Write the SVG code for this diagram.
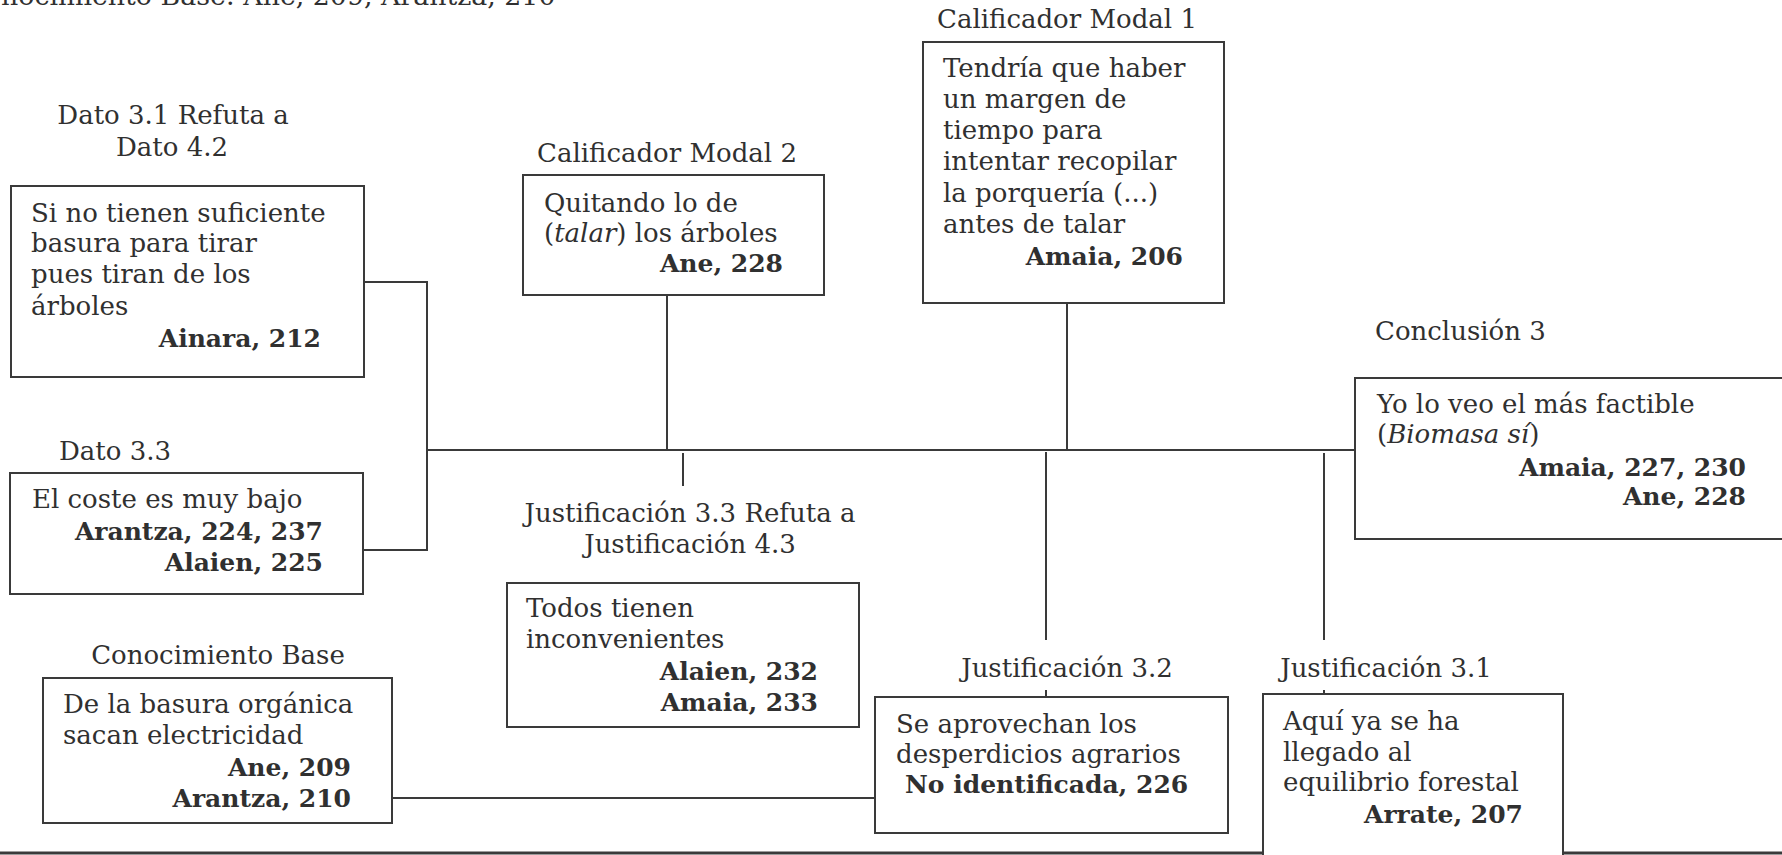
<svg xmlns="http://www.w3.org/2000/svg" width="1782" height="855" viewBox="0 0 1782 855">
  <style>
    text { font-family: "DejaVu Serif", "Liberation Serif", serif; font-size: 26px; fill: #303030; }
    .b { font-weight: bold; font-size: 25px; text-anchor: end; }
    .bl { font-weight: bold; font-size: 25px; }
    .top { font-size: 26.8px; }
    .c { text-anchor: middle; }
    .i { font-style: italic; }
    .box { fill: #ffffff; stroke: #3a3a3a; stroke-width: 2; }
    .ln { fill: none; stroke: #3a3a3a; stroke-width: 2; }
    .base { fill: none; stroke: #3a3a3a; stroke-width: 3; }
  </style>
  <rect width="1782" height="855" fill="#ffffff"/>

  <!-- caption line cut by the top edge -->
  <text class="top" x="1" y="5">nocimiento Base: Ane, 209, Arantza, 210</text>

  <!-- connectors -->
  <g id="connectors">
    <polyline class="ln" points="364,282 427,282 427,550 363,550"/>
    <line class="ln" x1="427" y1="450" x2="1355" y2="450"/>
    <line class="ln" x1="667" y1="295" x2="667" y2="450"/>
    <line class="ln" x1="1067" y1="304" x2="1067" y2="450"/>
    <line class="ln" x1="683" y1="453" x2="683" y2="486"/>
    <line class="ln" x1="1046" y1="452" x2="1046" y2="640"/>
    <line class="ln" x1="1046" y1="690" x2="1046" y2="697"/>
    <line class="ln" x1="1324" y1="453" x2="1324" y2="640"/>
    <line class="ln" x1="1324" y1="690" x2="1324" y2="694"/>
    <line class="ln" x1="392" y1="798" x2="875" y2="798"/>
    <line class="base" x1="0" y1="853" x2="1782" y2="853"/>
  </g>

  <g id="dato-3-1">
    <text class="c" x="173" y="124">Dato 3.1 Refuta a</text>
    <text class="c" x="172" y="156">Dato 4.2</text>
    <rect class="box" x="11" y="186" width="353" height="191"/>
    <text x="31" y="222">Si no tienen suficiente</text>
    <text x="31" y="252">basura para tirar</text>
    <text x="31" y="283">pues tiran de los</text>
    <text x="31" y="315">árboles</text>
    <text class="b" x="321" y="347">Ainara, 212</text>
  </g>

  <g id="calificador-modal-2">
    <text class="c" x="667" y="162">Calificador Modal 2</text>
    <rect class="box" x="523" y="175" width="301" height="120"/>
    <text x="544" y="212">Quitando lo de</text>
    <text x="544" y="242">(<tspan class="i">talar</tspan>) los árboles</text>
    <text class="b" x="783" y="272">Ane, 228</text>
  </g>

  <g id="calificador-modal-1">
    <text class="c" x="1067" y="28">Calificador Modal 1</text>
    <rect class="box" x="923" y="42" width="301" height="261"/>
    <text x="943" y="77">Tendría que haber</text>
    <text x="943" y="108">un margen de</text>
    <text x="943" y="139">tiempo para</text>
    <text x="943" y="170">intentar recopilar</text>
    <text x="943" y="202">la porquería (...)</text>
    <text x="943" y="233">antes de talar</text>
    <text class="b" x="1183" y="265">Amaia, 206</text>
  </g>

  <g id="conclusion-3">
    <text x="1375" y="340">Conclusión 3</text>
    <rect class="box" x="1355" y="378" width="500" height="161"/>
    <text x="1377" y="413">Yo lo veo el más factible</text>
    <text x="1377" y="443">(<tspan class="i">Biomasa sí</tspan>)</text>
    <text class="b" x="1746" y="476">Amaia, 227, 230</text>
    <text class="b" x="1746" y="505">Ane, 228</text>
  </g>

  <g id="dato-3-3">
    <text x="59" y="460">Dato 3.3</text>
    <rect class="box" x="10" y="473" width="353" height="121"/>
    <text x="32" y="508">El coste es muy bajo</text>
    <text class="b" x="323" y="540">Arantza, 224, 237</text>
    <text class="b" x="323" y="571">Alaien, 225</text>
  </g>

  <g id="justificacion-3-3">
    <text class="c" x="690" y="522">Justificación 3.3 Refuta a</text>
    <text class="c" x="690" y="553">Justificación 4.3</text>
    <rect class="box" x="507" y="583" width="352" height="144"/>
    <text x="526" y="617">Todos tienen</text>
    <text x="526" y="648">inconvenientes</text>
    <text class="b" x="818" y="680">Alaien, 232</text>
    <text class="b" x="818" y="711">Amaia, 233</text>
  </g>

  <g id="conocimiento-base">
    <text class="c" x="218" y="664">Conocimiento Base</text>
    <rect class="box" x="43" y="678" width="349" height="145"/>
    <text x="63" y="713">De la basura orgánica</text>
    <text x="63" y="744">sacan electricidad</text>
    <text class="b" x="351" y="776">Ane, 209</text>
    <text class="b" x="351" y="807">Arantza, 210</text>
  </g>

  <g id="justificacion-3-2">
    <text class="c" x="1067" y="677">Justificación 3.2</text>
    <rect class="box" x="875" y="697" width="353" height="136"/>
    <text x="896" y="733">Se aprovechan los</text>
    <text x="896" y="763">desperdicios agrarios</text>
    <text class="bl" x="905" y="793">No identificada, 226</text>
  </g>

  <g id="justificacion-3-1">
    <text class="c" x="1386" y="677">Justificación 3.1</text>
    <rect class="box" x="1263" y="694" width="300" height="200"/>
    <text x="1283" y="730">Aquí ya se ha</text>
    <text x="1283" y="761">llegado al</text>
    <text x="1283" y="791">equilibrio forestal</text>
    <text class="b" x="1523" y="823">Arrate, 207</text>
  </g>
</svg>
